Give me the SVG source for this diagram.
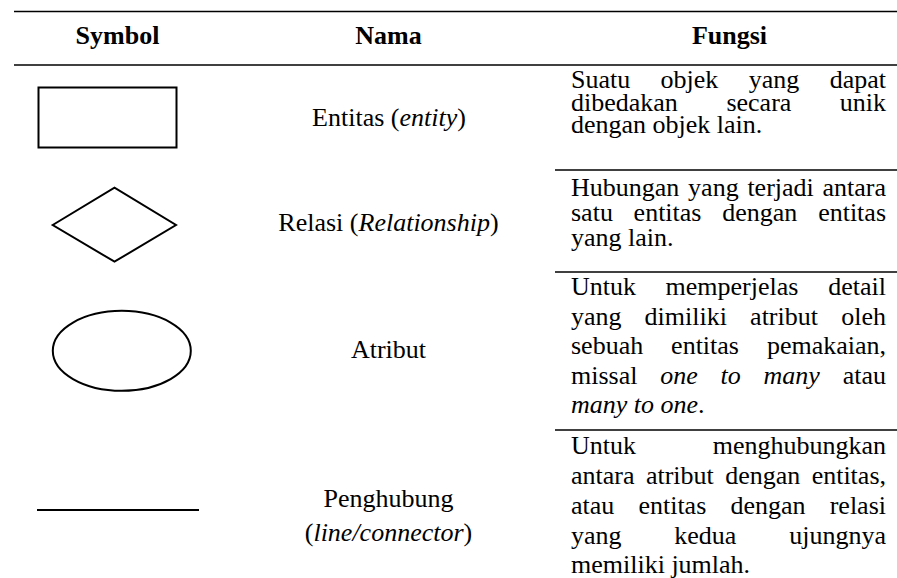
<svg xmlns="http://www.w3.org/2000/svg" width="897" height="578" viewBox="0 0 897 578">
  <style>
    .t { font-family: "Liberation Serif", "Times New Roman", serif; font-size: 26px; fill: #000; }
    .hd { font-weight: bold; text-anchor: middle; }
    .nm { text-anchor: middle; }
    .end { text-anchor: end; }
    .it { font-style: italic; }
    .rule { stroke: #000; stroke-width: 1.5; fill: none; }
    .shape { stroke: #000; stroke-width: 2; fill: #fff; }
  </style>
  <rect width="897" height="578" fill="#fff"/>

  <!-- table rules -->
  <g id="rules">
    <line class="rule" x1="14" y1="11.5" x2="897" y2="11.5"/>
    <line class="rule" x1="14" y1="65" x2="897" y2="65"/>
    <line class="rule" x1="555" y1="170" x2="897" y2="170"/>
    <line class="rule" x1="555" y1="272" x2="897" y2="272"/>
    <line class="rule" x1="555" y1="430" x2="897" y2="430"/>
  </g>

  <g class="t">
  <!-- column headings -->
  <g id="header">
    <text class="hd" x="117.5" y="44">Symbol</text>
    <text class="hd" x="388.5" y="44">Nama</text>
    <text class="hd" x="729.5" y="44">Fungsi</text>
  </g>

  <!-- entity -->
  <g id="row-entity">
    <rect class="shape" x="38.5" y="87.5" width="138" height="60"/>
    <text class="nm" x="389" y="126">Entitas (<tspan class="it">entity</tspan>)</text>
    <text x="571" y="88">Suatu</text>
    <text x="660.6" y="88">objek</text>
    <text x="748.8" y="88">yang</text>
    <text class="end" x="886" y="88">dapat</text>
    <text x="571" y="110.5">dibedakan</text>
    <text x="726.4" y="110.5">secara</text>
    <text class="end" x="886" y="110.5">unik</text>
    <text x="571" y="133">dengan objek lain.</text>
  </g>

  <!-- relationship -->
  <g id="row-relationship">
    <polygon class="shape" stroke-width="1.8" points="52.7,225 114.5,187.7 176,225 114.5,261.7"/>
    <text class="nm" x="388.5" y="231">Relasi (<tspan class="it">Relationship</tspan>)</text>
    <text x="571" y="196">Hubungan</text>
    <text x="688.1" y="196">yang</text>
    <text x="747.4" y="196">terjadi</text>
    <text class="end" x="886" y="196">antara</text>
    <text x="571" y="221">satu</text>
    <text x="633.6" y="221">entitas</text>
    <text x="722.2" y="221">dengan</text>
    <text class="end" x="886" y="221">entitas</text>
    <text x="571" y="246">yang lain.</text>
  </g>

  <!-- attribute -->
  <g id="row-attribute">
    <ellipse class="shape" stroke-width="1.8" cx="121.8" cy="350.8" rx="69" ry="40"/>
    <text class="nm" x="388.5" y="358">Atribut</text>
    <text x="571" y="295">Untuk</text>
    <text x="665.6" y="295">memperjelas</text>
    <text class="end" x="886" y="295">detail</text>
    <text x="571" y="324.5">yang</text>
    <text x="644.6" y="324.5">dimiliki</text>
    <text x="750.1" y="324.5">atribut</text>
    <text class="end" x="886" y="324.5">oleh</text>
    <text x="571" y="354">sebuah</text>
    <text x="671.1" y="354">entitas</text>
    <text class="end" x="886" y="354">pemakaian,</text>
    <text x="571" y="383.5">missal</text>
    <text class="it" x="660.3" y="383.5">one</text>
    <text class="it" x="720.6" y="383.5">to</text>
    <text class="it" x="763.6" y="383.5">many</text>
    <text class="end" x="886" y="383.5">atau</text>
    <text x="571" y="413"><tspan class="it">many to one</tspan>.</text>
  </g>

  <!-- connector line -->
  <g id="row-connector">
    <line stroke="#000" stroke-width="2.2" x1="37" y1="510" x2="199" y2="510"/>
    <text class="nm" x="388.5" y="507">Penghubung</text>
    <text class="nm" x="388.5" y="541">(<tspan class="it">line/connector</tspan>)</text>
    <text x="571" y="454">Untuk</text>
    <text class="end" x="886" y="454">menghubungkan</text>
    <text x="571" y="484">antara</text>
    <text x="645.9" y="484">atribut</text>
    <text x="725.2" y="484">dengan</text>
    <text class="end" x="886" y="484">entitas,</text>
    <text x="571" y="514">atau</text>
    <text x="638.4" y="514">entitas</text>
    <text x="730.4" y="514">dengan</text>
    <text class="end" x="886" y="514">relasi</text>
    <text x="571" y="544">yang</text>
    <text x="674.3" y="544">kedua</text>
    <text class="end" x="886" y="544">ujungnya</text>
    <text x="571" y="573">memiliki jumlah.</text>
  </g>
  </g>
</svg>
